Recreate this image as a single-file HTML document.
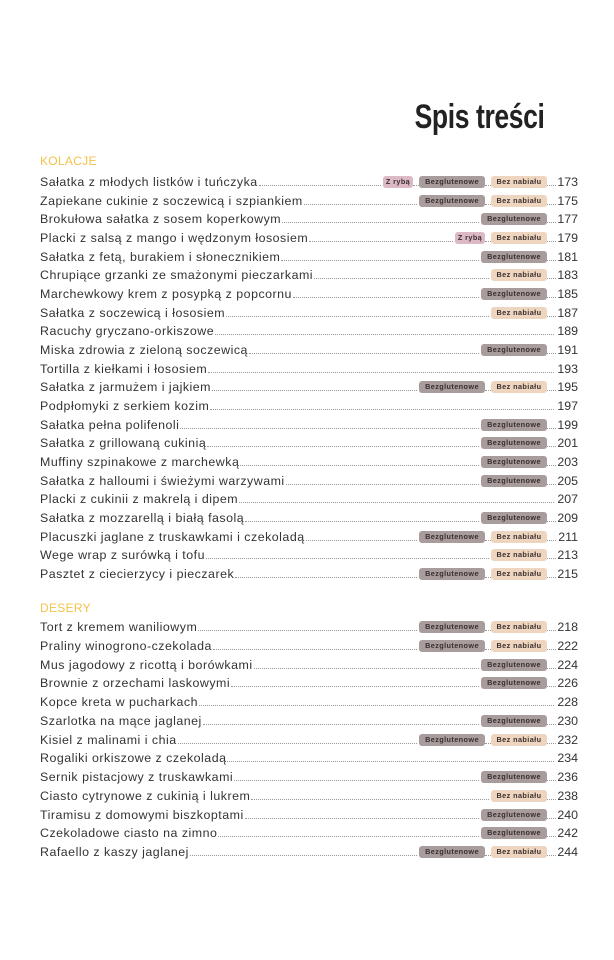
<!DOCTYPE html>
<html><head><meta charset="utf-8"><style>
body{margin:0;width:614px;height:960px;background:#fff;position:relative;overflow:hidden;font-family:"Liberation Sans",sans-serif;color:#333}
.title{position:absolute;right:70px;top:98px;font-family:"Liberation Sans Narrow","Liberation Sans",sans-serif;font-weight:bold;font-size:34px;color:#222;letter-spacing:-0.5px;transform:scaleX(0.78);transform-origin:right center;white-space:nowrap}
.hdr{position:absolute;left:40px;font-size:12px;color:#f2c24a;letter-spacing:0.3px}
.row{position:absolute;left:40px;width:538px;height:16px;display:flex;align-items:flex-end;font-size:12.4px;letter-spacing:0.5px;color:#333;white-space:nowrap}
.fill{flex:1;border-bottom:1px dotted #999;margin:0 2px 3px 1px;min-width:4px}
.gap{width:6px;border-bottom:1px dotted #999;margin-bottom:3px}
.tag{height:12px;line-height:12px;border-radius:3px;font-size:7.3px;font-weight:bold;letter-spacing:0.4px;text-align:center;margin-bottom:1px;color:#3a3030;white-space:nowrap;overflow:hidden}
.R{background:#dcb9c5;width:30px}.G{background:#a99c9c;width:66px}.N{background:#eed5bf;width:56px}
.num{width:22px;text-align:right;font-size:12.4px;letter-spacing:0;color:#333}
</style></head><body>
<div class="title">Spis treści</div>
<div class="hdr" style="top:154px">KOLACJE</div>
<div class="hdr" style="top:601px">DESERY</div>
<script>
const kolacjeTitles=["Sałatka z młodych listków i tuńczyka","Zapiekane cukinie z soczewicą i szpiankiem","Brokułowa sałatka z sosem koperkowym","Placki z salsą z mango i wędzonym łososiem","Sałatka z fetą, burakiem i słonecznikiem","Chrupiące grzanki ze smażonymi pieczarkami","Marchewkowy krem z posypką z popcornu","Sałatka z soczewicą i łososiem","Racuchy gryczano-orkiszowe","Miska zdrowia z zieloną soczewicą","Tortilla z kiełkami i łososiem","Sałatka z jarmużem i jajkiem","Podpłomyki z serkiem kozim","Sałatka pełna polifenoli","Sałatka z grillowaną cukinią","Muffiny szpinakowe z marchewką","Sałatka z halloumi i świeżymi warzywami","Placki z cukinii z makrelą i dipem","Sałatka z mozzarellą i białą fasolą","Placuszki jaglane z truskawkami i czekoladą","Wege wrap z surówką i tofu","Pasztet z ciecierzycy i pieczarek"];
const kolacjeTags=["RGN","GN","G","RN","G","N","G","N","","G","","GN","","G","G","G","G","","G","GN","N","GN"];
const kolacjePages=[173,175,177,179,181,183,185,187,189,191,193,195,197,199,201,203,205,207,209,211,213,215];
const deseryTitles=["Tort z kremem waniliowym","Praliny winogrono-czekolada","Mus jagodowy z ricottą i borówkami","Brownie z orzechami laskowymi","Kopce kreta w pucharkach","Szarlotka na mące jaglanej","Kisiel z malinami i chia","Rogaliki orkiszowe z czekoladą","Sernik pistacjowy z truskawkami","Ciasto cytrynowe z cukinią i lukrem","Tiramisu z domowymi biszkoptami","Czekoladowe ciasto na zimno","Rafaello z kaszy jaglanej"];
const deseryTags=["GN","GN","G","G","","G","GN","","G","N","G","G","GN"];
const deseryPages=[218,222,224,226,228,230,232,234,236,238,240,242,244];
const tagText={R:"Z rybą",G:"Bezglutenowe",N:"Bez nabiału"};
function draw(titles,tags,pages,y0,step,sec){
  titles.forEach((t,i)=>{
    const r=document.createElement('div');r.className='row';r.style.top=(y0+i*step)+'px';
    
    
    const s=document.createElement('span');s.textContent=t;
    
    
    r.appendChild(s);
    const f=document.createElement('span');f.className='fill';r.appendChild(f);
    tags[i].split('').forEach((c,k)=>{
      if(k>0){const g=document.createElement('span');g.className='gap';r.appendChild(g);}
      const b=document.createElement('span');b.className='tag '+c;b.textContent=tagText[c];
      
      
      r.appendChild(b);
    });
    if(tags[i]){const g=document.createElement('span');g.className='gap';g.style.width='9px';r.appendChild(g);}
    const n=document.createElement('span');n.className='num';n.textContent=pages[i];
    
    
    r.appendChild(n);
    document.body.appendChild(r);
  });
}
draw(kolacjeTitles,kolacjeTags,kolacjePages,173,18.67,'kolacje');
draw(deseryTitles,deseryTags,deseryPages,618,18.75,'desery');
</script>
</body></html>
